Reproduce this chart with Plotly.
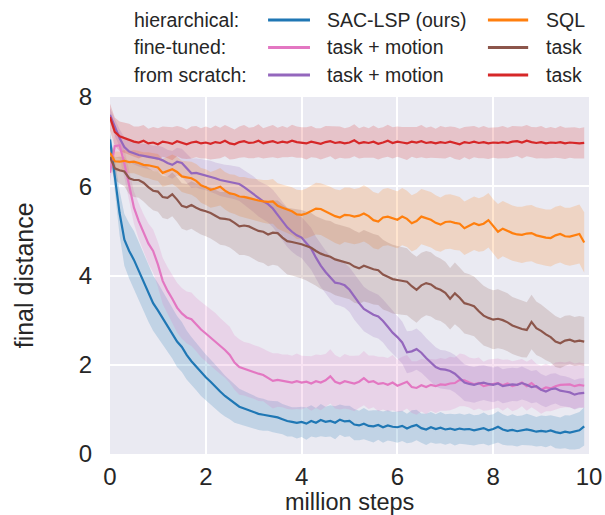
import plotly.graph_objects as go

# training progress, in million environment steps (one sample every 0.1 M)
steps = [round(0.1 * i, 1) for i in range(100)]

# hierarchical: SAC-LSP (ours)
sac_lsp = [
    7.05, 6.25, 5.40, 4.80, 4.55, 4.35, 4.10, 3.85, 3.60, 3.38,
    3.22, 3.05, 2.88, 2.72, 2.52, 2.40, 2.22, 2.08, 1.96, 1.82,
    1.72, 1.62, 1.50, 1.40, 1.30, 1.22, 1.12, 1.06, 1.02, 0.98,
    0.94, 0.90, 0.88, 0.86, 0.84, 0.82, 0.78, 0.74, 0.72, 0.70,
    0.72, 0.68, 0.74, 0.70, 0.76, 0.72, 0.74, 0.70, 0.77, 0.73,
    0.74, 0.66, 0.64, 0.68, 0.63, 0.62, 0.65, 0.60, 0.64, 0.61,
    0.60, 0.63, 0.57, 0.62, 0.65, 0.58, 0.55, 0.60, 0.56, 0.59,
    0.55, 0.57, 0.54, 0.57, 0.55, 0.56, 0.53, 0.55, 0.58, 0.53,
    0.56, 0.61, 0.55, 0.52, 0.54, 0.51, 0.53, 0.55, 0.53, 0.50,
    0.52, 0.50, 0.53, 0.49, 0.47, 0.50, 0.48, 0.50, 0.53, 0.62,
]
sac_lsp_ci = [
    0.15, 0.35, 0.50, 0.58, 0.62, 0.65, 0.65, 0.64, 0.63, 0.62,
    0.61, 0.60, 0.59, 0.58, 0.57, 0.56, 0.55, 0.54, 0.53, 0.52,
    0.51, 0.50, 0.49, 0.48, 0.46, 0.44, 0.42, 0.40, 0.39, 0.38,
    0.37, 0.36, 0.36, 0.34, 0.35, 0.36, 0.34, 0.35, 0.33, 0.35,
    0.34, 0.36, 0.35, 0.33, 0.36, 0.34, 0.35, 0.37, 0.34, 0.35,
    0.34, 0.35, 0.33, 0.35, 0.34, 0.36, 0.33, 0.35, 0.34, 0.33,
    0.35, 0.34, 0.33, 0.36, 0.34, 0.33, 0.35, 0.34, 0.33, 0.35,
    0.34, 0.33, 0.35, 0.34, 0.33, 0.35, 0.34, 0.33, 0.35, 0.34,
    0.33, 0.35, 0.34, 0.33, 0.35, 0.34, 0.33, 0.35, 0.34, 0.33,
    0.34, 0.35, 0.34, 0.36, 0.35, 0.37, 0.38, 0.40, 0.41, 0.43,
]

# hierarchical: SQL
sql = [
    6.75, 6.56, 6.55, 6.57, 6.54, 6.55, 6.52, 6.48, 6.47, 6.44,
    6.42, 6.30, 6.34, 6.38, 6.32, 6.22, 6.20, 6.18, 6.12, 6.02,
    5.98, 5.92, 5.95, 5.99, 5.90, 5.84, 5.82, 5.77, 5.76, 5.73,
    5.71, 5.68, 5.66, 5.65, 5.66, 5.56, 5.52, 5.48, 5.44, 5.37,
    5.36, 5.39, 5.45, 5.50, 5.49, 5.44, 5.39, 5.33, 5.30, 5.36,
    5.35, 5.32, 5.34, 5.39, 5.33, 5.24, 5.21, 5.30, 5.32, 5.28,
    5.25, 5.32, 5.27, 5.17, 5.22, 5.32, 5.28, 5.25, 5.18, 5.14,
    5.20, 5.21, 5.18, 5.16, 5.06, 5.12, 5.17, 5.13, 5.16, 5.24,
    5.10, 4.98, 5.05, 5.00, 4.95, 4.92, 4.91, 4.94, 4.95, 4.90,
    4.87, 4.85, 4.84, 4.90, 4.93, 4.88, 4.87, 4.90, 4.93, 4.74,
]
sql_ci = [
    0.20, 0.22, 0.23, 0.24, 0.25, 0.26, 0.27, 0.28, 0.29, 0.30,
    0.30, 0.31, 0.32, 0.33, 0.34, 0.35, 0.36, 0.37, 0.38, 0.39,
    0.40, 0.40, 0.41, 0.42, 0.42, 0.43, 0.44, 0.44, 0.45, 0.45,
    0.46, 0.47, 0.48, 0.49, 0.50, 0.51, 0.52, 0.53, 0.54, 0.55,
    0.55, 0.56, 0.57, 0.58, 0.58, 0.59, 0.60, 0.60, 0.61, 0.61,
    0.62, 0.62, 0.62, 0.63, 0.63, 0.63, 0.63, 0.64, 0.64, 0.64,
    0.64, 0.64, 0.63, 0.63, 0.63, 0.62, 0.62, 0.62, 0.62, 0.61,
    0.61, 0.61, 0.61, 0.60, 0.60, 0.60, 0.60, 0.60, 0.61, 0.61,
    0.61, 0.62, 0.62, 0.62, 0.62, 0.62, 0.63, 0.63, 0.63, 0.63,
    0.63, 0.63, 0.64, 0.64, 0.64, 0.64, 0.65, 0.65, 0.66, 0.68,
]

# fine-tuned: task + motion
ft_task_motion = [
    6.30, 6.90, 6.92, 6.51, 6.02, 5.52, 5.22, 4.95, 4.72, 4.55,
    4.25, 3.88, 3.66, 3.48, 3.28, 3.15, 3.06, 3.02, 2.90, 2.79,
    2.70, 2.61, 2.52, 2.42, 2.33, 2.22, 2.05, 1.95, 1.91, 1.88,
    1.84, 1.80, 1.77, 1.70, 1.64, 1.66, 1.64, 1.62, 1.60, 1.63,
    1.60, 1.62, 1.58, 1.63, 1.60, 1.65, 1.74, 1.62, 1.58, 1.63,
    1.60, 1.58, 1.62, 1.70, 1.61, 1.63, 1.57, 1.59, 1.55, 1.60,
    1.53, 1.57, 1.62, 1.50, 1.48, 1.54, 1.50, 1.55, 1.52, 1.56,
    1.55, 1.58, 1.59, 1.66, 1.65, 1.60, 1.56, 1.59, 1.52, 1.55,
    1.57, 1.59, 1.54, 1.58, 1.52, 1.55, 1.60, 1.52, 1.59, 1.50,
    1.44, 1.49, 1.47, 1.52, 1.55, 1.55, 1.56, 1.52, 1.55, 1.53,
]
ft_task_motion_ci = [
    0.20, 0.25, 0.30, 0.32, 0.34, 0.36, 0.40, 0.42, 0.45, 0.48,
    0.50, 0.52, 0.53, 0.55, 0.56, 0.57, 0.58, 0.60, 0.60, 0.62,
    0.63, 0.62, 0.64, 0.63, 0.62, 0.63, 0.61, 0.62, 0.60, 0.61,
    0.60, 0.61, 0.59, 0.60, 0.62, 0.60, 0.59, 0.61, 0.60, 0.62,
    0.60, 0.58, 0.61, 0.60, 0.62, 0.59, 0.61, 0.60, 0.58, 0.61,
    0.60, 0.62, 0.59, 0.61, 0.60, 0.58, 0.61, 0.59, 0.60, 0.62,
    0.59, 0.61, 0.60, 0.58, 0.60, 0.59, 0.61, 0.58, 0.60, 0.59,
    0.58, 0.60, 0.57, 0.59, 0.58, 0.56, 0.58, 0.57, 0.55, 0.57,
    0.56, 0.55, 0.57, 0.54, 0.56, 0.55, 0.53, 0.55, 0.54, 0.52,
    0.54, 0.53, 0.51, 0.53, 0.52, 0.50, 0.52, 0.51, 0.50, 0.50,
]

# fine-tuned: task
ft_task = [
    6.66, 6.40, 6.36, 6.33, 6.18, 6.14, 6.14, 6.08, 5.98, 5.90,
    5.88, 5.76, 5.74, 5.82, 5.70, 5.56, 5.53, 5.58, 5.52, 5.47,
    5.44, 5.40, 5.34, 5.28, 5.27, 5.25, 5.18, 5.10, 5.12, 5.10,
    5.05, 5.00, 4.98, 4.92, 4.96, 4.95, 4.85, 4.77, 4.75, 4.73,
    4.70, 4.66, 4.62, 4.55, 4.49, 4.45, 4.42, 4.36, 4.33, 4.30,
    4.27, 4.20, 4.16, 4.22, 4.18, 4.14, 4.12, 4.02, 3.97, 3.92,
    3.90, 3.88, 3.86, 3.76, 3.68, 3.78, 3.83, 3.80, 3.72, 3.68,
    3.61, 3.48, 3.60, 3.50, 3.38, 3.35, 3.31, 3.20, 3.10, 3.05,
    3.01, 3.03, 3.00, 2.95, 2.88, 2.84, 2.80, 2.78, 2.96, 2.82,
    2.76, 2.68, 2.62, 2.52, 2.48, 2.54, 2.56, 2.52, 2.54, 2.52,
]
ft_task_ci = [
    0.20, 0.25, 0.30, 0.33, 0.36, 0.38, 0.40, 0.42, 0.43, 0.44,
    0.45, 0.47, 0.48, 0.49, 0.50, 0.51, 0.52, 0.53, 0.54, 0.55,
    0.56, 0.57, 0.58, 0.59, 0.60, 0.62, 0.63, 0.64, 0.66, 0.67,
    0.68, 0.69, 0.70, 0.71, 0.72, 0.73, 0.74, 0.75, 0.75, 0.76,
    0.77, 0.77, 0.78, 0.78, 0.79, 0.79, 0.80, 0.80, 0.80, 0.80,
    0.80, 0.81, 0.80, 0.80, 0.79, 0.79, 0.78, 0.78, 0.77, 0.77,
    0.76, 0.76, 0.75, 0.74, 0.74, 0.73, 0.72, 0.72, 0.71, 0.70,
    0.70, 0.69, 0.69, 0.68, 0.68, 0.68, 0.67, 0.67, 0.67, 0.66,
    0.66, 0.66, 0.65, 0.65, 0.64, 0.64, 0.63, 0.62, 0.61, 0.60,
    0.59, 0.58, 0.57, 0.57, 0.56, 0.56, 0.55, 0.55, 0.55, 0.55,
]

# from scratch: task + motion
sc_task_motion = [
    7.60, 7.32, 7.08, 6.88, 6.78, 6.74, 6.70, 6.68, 6.66, 6.63,
    6.62, 6.58, 6.52, 6.48, 6.55, 6.52, 6.40, 6.29, 6.30, 6.27,
    6.25, 6.22, 6.18, 6.14, 6.12, 6.10, 6.08, 6.05, 5.98, 5.90,
    5.82, 5.72, 5.66, 5.60, 5.50, 5.36, 5.22, 5.08, 4.98, 4.90,
    4.85, 4.72, 4.60, 4.40, 4.22, 4.08, 3.95, 3.84, 3.82, 3.78,
    3.68, 3.52, 3.38, 3.25, 3.18, 3.12, 3.08, 2.98, 2.85, 2.72,
    2.62, 2.50, 2.28, 2.30, 2.35, 2.27, 2.15, 2.05, 1.95, 1.90,
    1.89, 1.86, 1.80, 1.70, 1.60, 1.57, 1.55, 1.58, 1.60, 1.57,
    1.55, 1.58, 1.52, 1.54, 1.56, 1.55, 1.59, 1.55, 1.50, 1.52,
    1.44, 1.40, 1.45, 1.47, 1.42, 1.40, 1.38, 1.33, 1.36, 1.37,
]
sc_task_motion_ci = [
    0.15, 0.18, 0.20, 0.22, 0.23, 0.25, 0.26, 0.27, 0.28, 0.28,
    0.29, 0.30, 0.30, 0.31, 0.31, 0.32, 0.32, 0.33, 0.33, 0.34,
    0.34, 0.35, 0.35, 0.36, 0.36, 0.37, 0.37, 0.38, 0.38, 0.39,
    0.40, 0.40, 0.41, 0.41, 0.42, 0.43, 0.43, 0.44, 0.45, 0.45,
    0.46, 0.46, 0.47, 0.47, 0.48, 0.48, 0.49, 0.49, 0.50, 0.50,
    0.50, 0.51, 0.50, 0.50, 0.49, 0.50, 0.49, 0.48, 0.49, 0.48,
    0.48, 0.47, 0.47, 0.46, 0.46, 0.45, 0.45, 0.44, 0.44, 0.43,
    0.43, 0.42, 0.42, 0.41, 0.41, 0.40, 0.40, 0.40, 0.39, 0.39,
    0.39, 0.38, 0.38, 0.38, 0.37, 0.37, 0.37, 0.36, 0.36, 0.36,
    0.35, 0.35, 0.35, 0.34, 0.34, 0.34, 0.33, 0.33, 0.33, 0.33,
]

# from scratch: task
sc_task = [
    7.55, 7.22, 7.12, 7.08, 7.05, 7.00, 6.98, 7.02, 6.96, 6.98,
    6.94, 7.00, 6.98, 6.95, 7.01, 6.97, 6.94, 6.98, 7.00, 6.96,
    6.98, 6.95, 6.99, 6.97, 7.02, 6.96, 6.94, 6.99, 7.01, 6.97,
    6.98, 7.02, 6.96, 6.99, 7.01, 6.97, 7.00, 6.98, 7.02, 6.99,
    6.98, 6.96, 7.00, 6.97, 6.95, 6.99, 7.01, 6.97, 6.99, 6.96,
    6.98, 7.03, 6.96, 6.99, 6.97, 7.00, 6.95, 6.98, 7.02, 6.97,
    7.00, 6.98, 6.96, 7.00, 6.98, 7.01, 6.97, 6.99, 6.96, 6.99,
    6.97, 7.00, 6.97, 6.94, 6.99, 6.97, 7.00, 6.97, 6.99, 6.96,
    6.98, 6.97, 6.99, 6.97, 7.00, 7.01, 6.98, 7.02, 6.99, 6.97,
    6.99, 6.96, 6.98, 6.97, 6.99, 6.96, 6.98, 6.97, 6.96, 6.97,
]
sc_task_ci = [
    0.30, 0.32, 0.33, 0.34, 0.35, 0.34, 0.36, 0.35, 0.33, 0.35,
    0.36, 0.34, 0.35, 0.37, 0.34, 0.35, 0.33, 0.36, 0.35, 0.34,
    0.36, 0.35, 0.37, 0.34, 0.35, 0.36, 0.33, 0.35, 0.36, 0.34,
    0.35, 0.37, 0.34, 0.35, 0.36, 0.34, 0.35, 0.33, 0.36, 0.35,
    0.34, 0.36, 0.35, 0.33, 0.35, 0.36, 0.34, 0.37, 0.35, 0.34,
    0.35, 0.36, 0.34, 0.35, 0.33, 0.36, 0.35, 0.34, 0.36, 0.35,
    0.34, 0.35, 0.37, 0.34, 0.35, 0.36, 0.34, 0.35, 0.33, 0.36,
    0.35, 0.34, 0.36, 0.35, 0.34, 0.37, 0.35, 0.34, 0.36, 0.35,
    0.34, 0.35, 0.36, 0.34, 0.35, 0.33, 0.36, 0.35, 0.34, 0.35,
    0.36, 0.34, 0.35, 0.33, 0.36, 0.35, 0.34, 0.35, 0.34, 0.35,
]

# legend layout: group labels and the two entries that follow each of them
group_labels = ["hierarchical:", "fine-tuned:", "from scratch:"]
series = [
    # (mean, ci, colour, label, legend row, legend column)
    (sac_lsp, sac_lsp_ci, (31, 119, 180), "SAC-LSP (ours)", 0, 0),
    (ft_task_motion, ft_task_motion_ci, (227, 119, 194), "task + motion", 1, 0),
    (sc_task_motion, sc_task_motion_ci, (148, 103, 189), "task + motion", 2, 0),
    (sql, sql_ci, (255, 127, 14), "SQL", 0, 1),
    (ft_task, ft_task_ci, (140, 86, 75), "task", 1, 1),
    (sc_task, sc_task_ci, (214, 39, 40), "task", 2, 1),
]

TEXT = "#262626"
FONT = "Liberation Sans, Arial, sans-serif"

fig = go.Figure()

for mean, ci, rgb, label, _, _ in series:
    r, g, b = rgb
    upper = [m + c for m, c in zip(mean, ci)]
    lower = [m - c for m, c in zip(mean, ci)]
    fig.add_trace(go.Scatter(
        x=steps + steps[::-1], y=upper + lower[::-1],
        fill="toself", fillcolor=f"rgba({r},{g},{b},0.2)",
        line=dict(width=0), mode="lines", hoverinfo="skip", showlegend=False,
    ))
for mean, ci, rgb, label, _, _ in series:
    r, g, b = rgb
    fig.add_trace(go.Scatter(
        x=steps, y=mean, mode="lines", name=label,
        line=dict(color=f"rgb({r},{g},{b})", width=2.2), showlegend=False,
    ))

# hand-laid legend: label column, then two (line sample + text) columns
row_y = [1.2157, 1.1387, 1.0616]
sample_x = [(0.330, 0.4175), (0.789, 0.873)]
text_x = [0.449, 0.906]
annotations = []
shapes = []
for i, txt in enumerate(group_labels):
    annotations.append(dict(
        text=txt, x=0.046, y=row_y[i], xref="paper", yref="paper",
        xanchor="left", yanchor="middle", showarrow=False,
        font=dict(size=19.5, color=TEXT, family=FONT),
    ))
for mean, ci, rgb, label, row, col in series:
    r, g, b = rgb
    x0, x1 = sample_x[col]
    shapes.append(dict(
        type="line", xref="paper", yref="paper",
        x0=x0, x1=x1, y0=row_y[row], y1=row_y[row],
        line=dict(color=f"rgb({r},{g},{b})", width=3),
    ))
    annotations.append(dict(
        text=label, x=text_x[col], y=row_y[row], xref="paper", yref="paper",
        xanchor="left", yanchor="middle", showarrow=False,
        font=dict(size=19.5, color=TEXT, family=FONT),
    ))

# axis titles
annotations.append(dict(
    text="million steps", x=0.5, y=-0.1345, xref="paper", yref="paper",
    xanchor="center", yanchor="middle", showarrow=False, borderpad=0,
    font=dict(size=23.5, color=TEXT, family=FONT),
))
annotations.append(dict(
    text="final distance", x=-0.18, y=0.5, xref="paper", yref="paper",
    xanchor="center", yanchor="middle", showarrow=False, textangle=-90,
    font=dict(size=25, color=TEXT, family=FONT),
))

fig.update_layout(
    width=605, height=515,
    margin=dict(l=110, r=16, t=97, b=61, autoexpand=False),
    paper_bgcolor="white", plot_bgcolor="#EAEAF2",
    font=dict(family=FONT, color=TEXT),
    annotations=annotations, shapes=shapes,
    showlegend=False,
)
fig.update_xaxes(
    range=[0, 10], tickvals=[0, 2, 4, 6, 8, 10], automargin=False,
    showgrid=True, gridcolor="white", gridwidth=1.8, zeroline=False,
    showline=False, ticks="outside", ticklen=1, tickcolor="rgba(0,0,0,0)",
    tickfont=dict(size=24, color=TEXT),
)
fig.update_yaxes(
    range=[0, 8], tickvals=[0, 2, 4, 6, 8], automargin=False,
    showgrid=True, gridcolor="white", gridwidth=1.8, zeroline=False,
    showline=False, ticks="outside", ticklen=12, tickcolor="rgba(0,0,0,0)",
    tickfont=dict(size=24, color=TEXT),
)

fig.write_html("out.html")
